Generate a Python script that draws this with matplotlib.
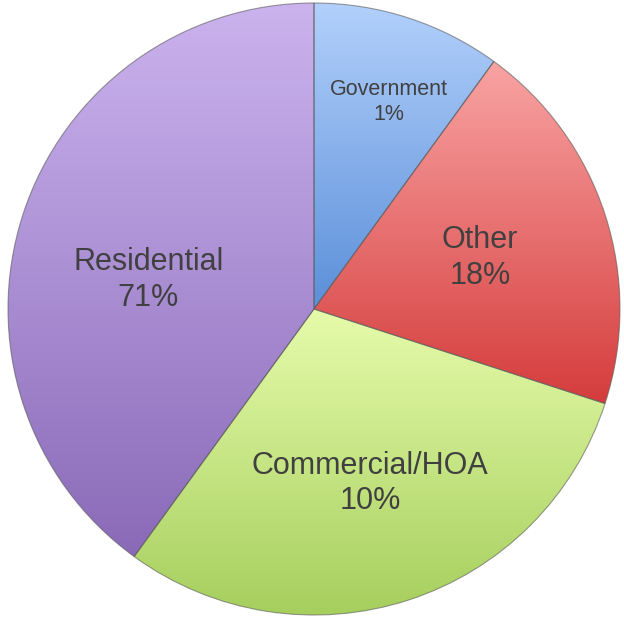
import numpy as np
import matplotlib.pyplot as plt
from matplotlib.colors import LinearSegmentedColormap

# slice sizes as drawn, and the labels printed on them
categories = ["Government", "Other", "Commercial/HOA", "Residential"]
drawn_share = [10, 20, 30, 40]
label_pct = ["1%", "18%", "10%", "71%"]

# light (top) -> dark (bottom) fill for each slice
top_colors = ["#b2d0fb", "#f9a3a3", "#e6fbaa", "#cbb3ee"]
bottom_colors = ["#5b8fd9", "#d53c3c", "#a6cf5e", "#8a6ab8"]
label_size = [15.5, 22, 22, 22]
label_xy = [(0.245, 0.676), (0.542, 0.167), (0.183, -0.570), (-0.542, 0.095)]

plt.rcParams['font.family'] = ['Liberation Sans', 'DejaVu Sans']

fig = plt.figure(figsize=(6.24, 6.17), dpi=100)
cx, cy, r = 314, 309, 306
ax = fig.add_axes([(cx - r) / 624, (617 - cy - r) / 617, 2 * r / 624, 2 * r / 617])

wedges, _ = ax.pie(drawn_share, startangle=90, counterclock=False, radius=1,
                   wedgeprops=dict(edgecolor=(0.35, 0.35, 0.35, 0.6), linewidth=0.8))

for w, c0, c1, name, pct, fs, (lx, ly) in zip(wedges, top_colors, bottom_colors, categories,
                                               label_pct, label_size, label_xy):
    w.set_facecolor("none")
    ext = w.get_path().get_extents(w.get_patch_transform())
    cmap = LinearSegmentedColormap.from_list("g", [c1, c0])
    grad = np.linspace(0, 1, 256).reshape(-1, 1)
    im = ax.imshow(grad, cmap=cmap, origin="lower", aspect="auto",
                   extent=[ext.x0, ext.x1, ext.y0, ext.y1], zorder=0.5)
    im.set_clip_path(w)
    ax.text(lx, ly, f"{name}\n{pct}", ha="center", va="center",
            fontsize=fs, color="#404040", linespacing=1.25, zorder=3)

ax.set_xlim(-1, 1)
ax.set_ylim(-1, 1)
ax.set_aspect("auto")
ax.axis("off")

fig.savefig("out.png", dpi=100)
